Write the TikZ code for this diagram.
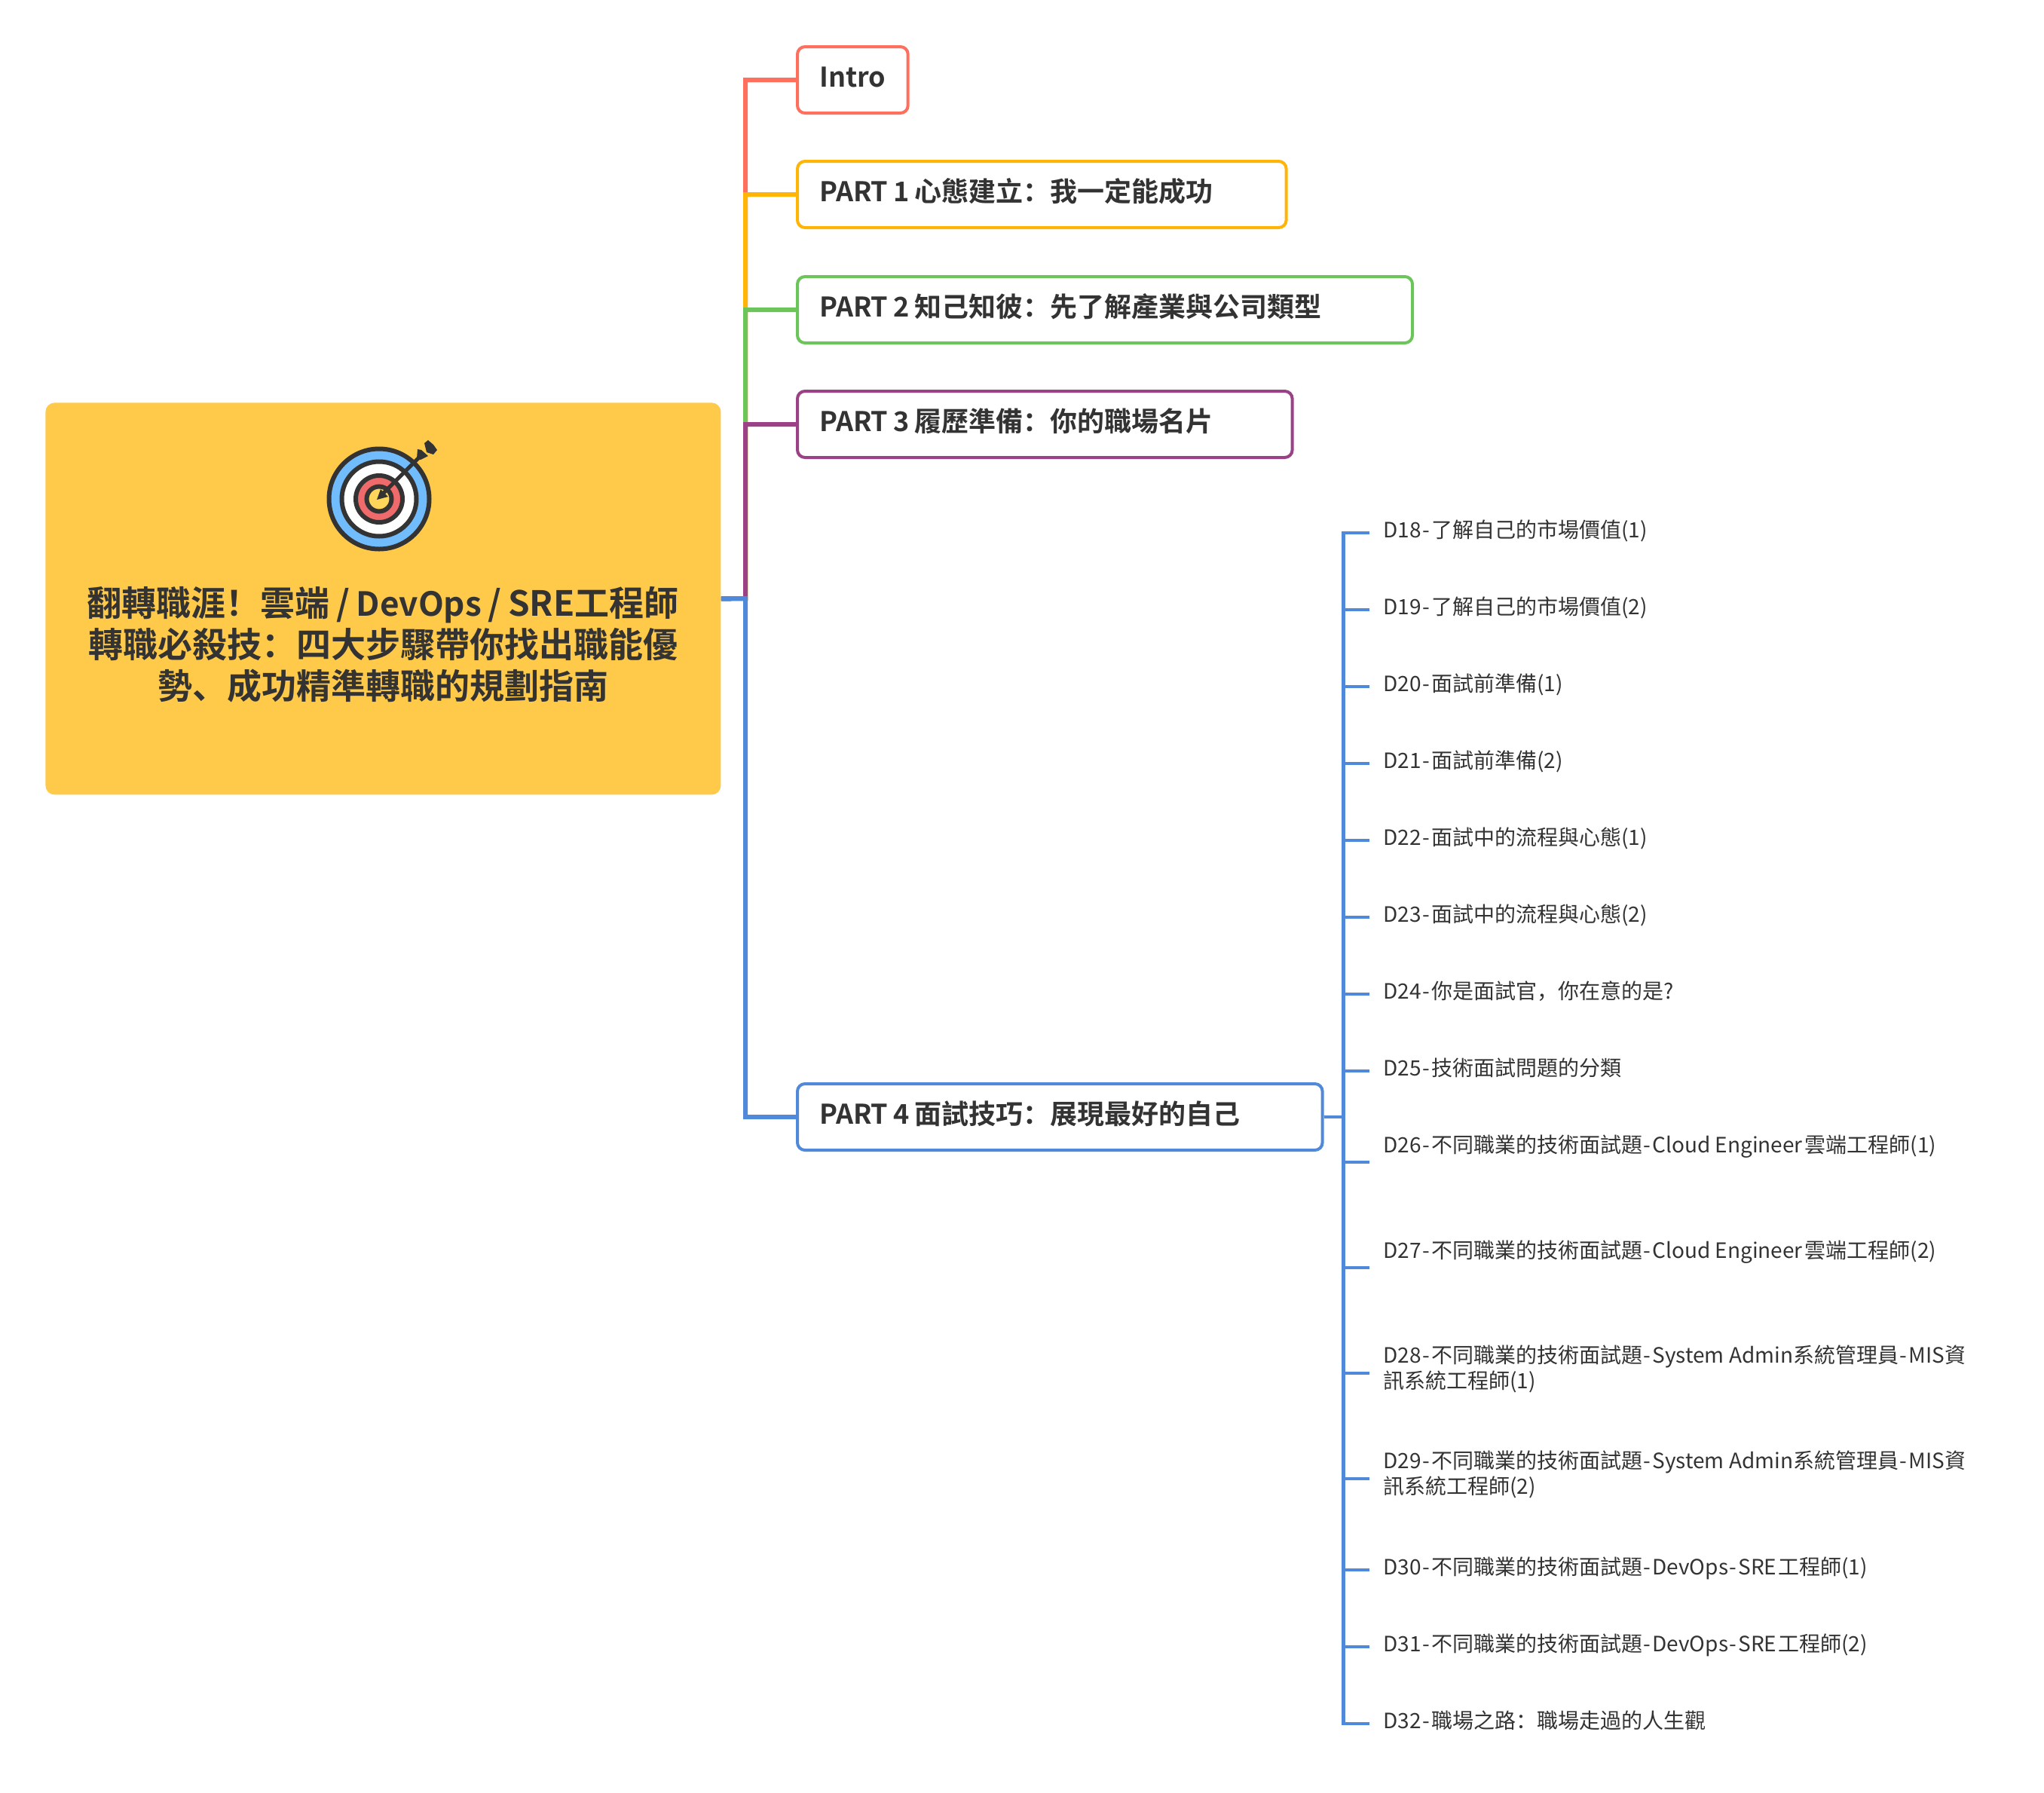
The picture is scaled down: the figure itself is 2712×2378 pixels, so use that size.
\documentclass[tikz,border=0pt]{standalone}
\usepackage{fontspec}
\setmainfont{Noto Sans CJK SC}
\newfontfamily\partfont{Noto Sans CJK SC Bold}
\newfontfamily\rootfont{Noto Sans CJK SC Bold}[WordSpace=0.85]
\newcommand{\daydash}{\hspace{.9pt}-\hspace{.9pt}}
\newcommand{\partgap}{\hspace{-2.6pt}}
\definecolor{inkgray}{HTML}{333333}
\definecolor{rootfill}{HTML}{FFC94A}
\definecolor{introred}{HTML}{FF6F5E}
\definecolor{partorange}{HTML}{FFB508}
\definecolor{partgreen}{HTML}{6CC55A}
\definecolor{partpurple}{HTML}{9B4287}
\definecolor{partblue}{HTML}{5089DA}
\definecolor{ringblue}{HTML}{71BCFD}
\definecolor{ringred}{HTML}{EF6A6A}
\definecolor{ringyellow}{HTML}{FFD65A}
\tikzset{
  partbox/.style={draw, line width=2pt, rounded corners=5pt, fill=white, anchor=west, inner xsep=14.5pt, inner ysep=0pt,
    minimum height=44pt, text height=15pt, text depth=6pt, align=left, text=inkgray,
    font=\partfont\fontsize{18}{22}\selectfont},
  dayitem/.style={anchor=west, inner sep=0pt, text=inkgray, align=left, text height=12pt, text depth=3pt,
    font=\fontsize{14}{17}\selectfont},
  trunk/.style={line width=3pt},
  twig/.style={line width=2.2pt, partblue},
  ring/.style={draw=inkgray, line width=3pt},
}
\begin{document}
\begin{tikzpicture}[x=0.5pt, y=-0.5pt]
  \useasboundingbox (0,0) rectangle (2712,2378);

  % Central topic
  \node (root) [fill=rootfill, rounded corners=6pt, minimum width=448pt, minimum height=260pt, anchor=north west] at (60,534) {};
  \node (roottext) [text=inkgray, align=center, inner sep=0pt, font=\rootfont\fontsize{23}{27.5}\selectfont] at (508,855)
    {翻轉職涯！雲端 / {\fontsize{22}{27.5}\selectfont DevOps} / SRE工程師\\轉職必殺技：四大步驟帶你找出職能優\\勢、成功精準轉職的規劃指南};

  % Target icon
  \filldraw[ring, fill=ringblue] (503,662) circle (66.5);
  \filldraw[ring, fill=white] (503,662) circle (49.5);
  \filldraw[ring, fill=ringred] (503,662) circle (31);
  \filldraw[ring, fill=ringyellow] (503,662) circle (16.5);
  \fill[inkgray] (500,663) -- (505,649) -- (515,659) -- cycle;
  \draw[inkgray, line width=2.5pt] (508,655) -- (558,605);
  \fill[inkgray] (554,596) -- (559,597) -- (568,605) -- (558,610) -- (553,608) -- cycle;
  \fill[inkgray] (563,588) -- (568,584) -- (575,590) -- (580,597) -- (575,603) -- (566,600) -- cycle;

  % Main branches
  \node (intro) [partbox, draw=introred, minimum width=73.35pt] at (1056,106) {Intro};
  \node (partone) [partbox, draw=partorange, text width=295.3pt] at (1056,258) {PART\partgap{} 1\partgap{} 心態建立：我一定能成功};
  \node (parttwo) [partbox, draw=partgreen, text width=379pt] at (1056,411) {PART\partgap{} 2\partgap{} 知己知彼：先了解產業與公司類型};
  \node (partthree) [partbox, draw=partpurple, text width=299.3pt] at (1056,563) {PART\partgap{} 3\partgap{} 履歷準備：你的職場名片};
  \node (partfour) [partbox, draw=partblue, text width=319.3pt] at (1056,1482) {PART\partgap{} 4\partgap{} 面試技巧：展現最好的自己};

  \coordinate (trunktop) at (989,794);
  \coordinate (twigtop) at (1782.5,1482);

  \draw[trunk, introred] (root.east) -- (trunktop) |- (intro.west);
  \draw[trunk, partorange] (root.east) -- (trunktop) |- (partone.west);
  \draw[trunk, partgreen] (root.east) -- (trunktop) |- (parttwo.west);
  \draw[trunk, partpurple] (root.east) -- (trunktop) |- (partthree.west);
  \draw[trunk, partblue] (root.east) -- (trunktop) |- (partfour.west);

  % Day list under part 4
  \foreach \dayname/\ypos/\ytext/\daytext in {
    dayA/707/704/{D18\daydash 了解自己的市場價值(1)},
    dayB/809/806/{D19\daydash 了解自己的市場價值(2)},
    dayC/911/908/{D20\daydash 面試前準備(1)},
    dayD/1013/1010/{D21\daydash 面試前準備(2)},
    dayE/1115/1112/{D22\daydash 面試中的流程與心態(1)},
    dayF/1217/1214/{D23\daydash 面試中的流程與心態(2)},
    dayG/1319/1316/{D24\daydash 你是面試官，你在意的是?},
    dayH/1421/1418/{D25\daydash 技術面試問題的分類},
    dayI/1542/1520/{D26\daydash 不同職業的技術面試題\daydash Cloud Engineer\hspace{1.5pt}雲端工程師(1)},
    dayJ/1682/1660/{D27\daydash 不同職業的技術面試題\daydash Cloud Engineer\hspace{1.5pt}雲端工程師(2)},
    dayK/1822/1833/{D28\daydash 不同職業的技術面試題\daydash System Admin系統管理員\daydash MIS資\\訊系統工程師(1)},
    dayL/1962/1973/{D29\daydash 不同職業的技術面試題\daydash System Admin系統管理員\daydash MIS資\\訊系統工程師(2)},
    dayM/2083/2080/{D30\daydash 不同職業的技術面試題\daydash DevOps\daydash SRE\hspace{1pt}工程師(1)},
    dayN/2185/2182/{D31\daydash 不同職業的技術面試題\daydash DevOps\daydash SRE\hspace{1pt}工程師(2)},
    dayO/2287/2284/{D32\daydash 職場之路：職場走過的人生觀}} {
    \node (\dayname) [dayitem] at (1835,\ytext) {\daytext};
    \coordinate (\dayname end) at (1817,\ypos);
    \draw[twig] (partfour.east) -- (twigtop) |- (\dayname end);
  }
\end{tikzpicture}
\end{document}
